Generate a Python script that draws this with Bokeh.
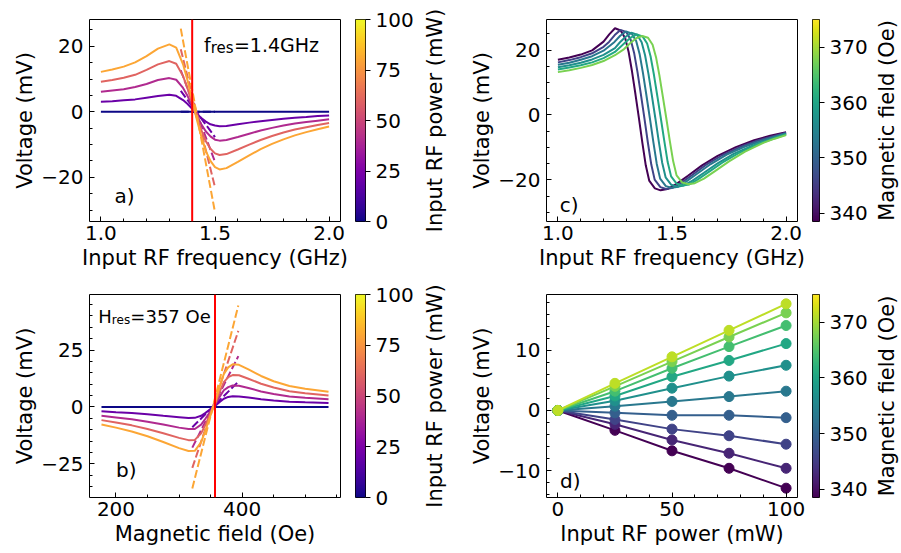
import numpy as np
from bokeh.plotting import figure
from bokeh.layouts import row, column
from bokeh.models import Range1d, FixedTicker, CustomJSTickFormatter, Label, LinearColorMapper, Span
from bokeh.palettes import Plasma256, Viridis256
from bokeh.embed import file_html
from bokeh.resources import INLINE

FONT = "DejaVu Sans"

# ---------------- data ----------------
POWERS = [0, 25, 50, 75, 100]
F_RES = 1.4
H_RES = 357

# panel a: voltage vs frequency for each power
FREQ_A = [1.00, 1.05, 1.10, 1.15, 1.20, 1.25, 1.30, 1.33, 1.36, 1.38, 1.40, 1.42, 1.44, 1.46,
          1.48, 1.50, 1.52, 1.55, 1.60, 1.65, 1.70, 1.75, 1.80, 1.85, 1.90, 1.95, 2.00]
VOLT_A_0 = [0.0, 0.0, 0.0, 0.0, 0.0, 0.0, 0.0, 0.0, 0.0, 0.0, 0.0, 0.0, 0.0, 0.0,
            0.0, 0.0, 0.0, 0.0, 0.0, 0.0, 0.0, 0.0, 0.0, 0.0, 0.0, 0.0, 0.0]
VOLT_A_25 = [3.1, 3.2, 3.5, 3.8, 4.3, 4.8, 5.2, 4.9, 3.6, 2.4, 0.9, -0.6, -1.9, -3.0,
             -3.8, -4.2, -4.4, -4.3, -3.8, -3.3, -2.9, -2.5, -2.1, -1.8, -1.6, -1.3, -1.1]
VOLT_A_50 = [6.1, 6.5, 6.9, 7.6, 8.5, 9.7, 10.3, 9.8, 7.3, 4.8, 1.8, -1.2, -3.8, -6.0,
             -7.5, -8.5, -8.8, -8.6, -7.7, -6.7, -5.7, -4.9, -4.2, -3.6, -3.1, -2.7, -2.3]
VOLT_A_75 = [9.2, 9.7, 10.4, 11.3, 12.8, 14.5, 15.5, 14.7, 10.9, 7.1, 2.6, -1.7, -5.6, -9.0,
             -11.3, -12.7, -13.2, -12.9, -11.5, -10.0, -8.6, -7.4, -6.3, -5.4, -4.7, -4.0, -3.4]
VOLT_A_100 = [12.2, 12.9, 13.8, 15.1, 17.0, 19.3, 20.6, 19.6, 14.5, 9.5, 3.5, -2.3, -7.5, -12.0,
              -15.0, -16.9, -17.6, -17.2, -15.3, -13.3, -11.4, -9.8, -8.4, -7.2, -6.2, -5.3, -4.5]
FIT_FREQ_A = [1.35, 1.50]
FIT_A_0 = [0.0, 0.0]
FIT_A_25 = [6.4, -7.7]
FIT_A_50 = [12.7, -15.3]
FIT_A_75 = [19.1, -23.0]
FIT_A_100 = [25.4, -30.7]

# panel b: voltage vs magnetic field for each power
FIELD_B = [177, 200, 225, 250, 275, 300, 315, 325, 335, 342, 350, 357, 364, 371, 378, 385,
           395, 410, 430, 450, 475, 500, 537]
VOLT_B_0 = [0.0, 0.0, 0.0, 0.0, 0.0, 0.0, 0.0, 0.0, 0.0, 0.0, 0.0, 0.0, 0.0, 0.0, 0.0, 0.0,
            0.0, 0.0, 0.0, 0.0, 0.0, 0.0, 0.0]
VOLT_B_25 = [-1.9, -2.3, -2.7, -3.2, -3.9, -4.5, -4.9, -4.8, -3.9, -2.6, -0.9, 0.4, 2.1, 3.6, 4.4, 4.7,
             4.6, 4.1, 3.4, 2.8, 2.3, 2.0, 1.7]
VOLT_B_50 = [-3.9, -4.6, -5.4, -6.5, -7.7, -9.1, -9.7, -9.7, -7.8, -5.1, -1.8, 0.9, 4.3, 7.3, 8.7, 9.4,
             9.3, 8.3, 6.8, 5.7, 4.6, 4.0, 3.4]
VOLT_B_75 = [-5.8, -6.8, -8.1, -9.7, -11.6, -13.6, -14.6, -14.5, -11.6, -7.7, -2.7, 1.3, 6.4, 10.9, 13.1, 14.0,
             13.9, 12.4, 10.2, 8.5, 6.9, 6.0, 5.0]
VOLT_B_100 = [-7.7, -9.1, -10.8, -12.9, -15.4, -18.1, -19.4, -19.3, -15.5, -10.2, -3.6, 1.7, 8.5, 14.5, 17.4, 18.7,
              18.5, 16.5, 13.6, 11.3, 9.2, 8.0, 6.7]
FIT_FIELD_B = [321, 394]
FIT_B_0 = [0.0, 0.0]
FIT_B_25 = [-8.9, 11.1]
FIT_B_50 = [-17.9, 22.3]
FIT_B_75 = [-26.8, 33.4]
FIT_B_100 = [-35.8, 44.6]

# panel c: voltage vs frequency at several magnetic fields
FIELDS_C = [338.5, 345.8, 353.1, 356.8, 360.4, 367.7]
FREQ_C1 = [1.00, 1.05, 1.10, 1.15, 1.20, 1.225, 1.25, 1.275, 1.295, 1.31, 1.325, 1.34, 1.355, 1.37,
           1.385, 1.40, 1.425, 1.45, 1.48, 1.52, 1.57, 1.63, 1.70, 1.78, 1.86, 1.93, 2.00]
VOLT_C1 = [17.0, 17.7, 18.6, 19.9, 22.6, 24.8, 26.7, 26.0, 23.6, 19.4, 13.3, 6.3, -1.0, -8.5,
           -15.5, -20.2, -22.6, -23.2, -22.8, -21.2, -18.7, -15.6, -12.6, -9.9, -7.8, -6.4, -5.3]
FREQ_C2 = [1.00, 1.05, 1.10, 1.15, 1.20, 1.224, 1.249, 1.274, 1.299, 1.319, 1.334, 1.349, 1.364, 1.379,
           1.394, 1.409, 1.424, 1.449, 1.474, 1.504, 1.54, 1.59, 1.65, 1.72, 1.80, 1.88, 1.94, 2.00]
VOLT_C2 = [16.2, 16.9, 17.8, 19.0, 21.0, 22.5, 24.6, 26.2, 25.6, 23.2, 19.1, 13.1, 6.2, -1.0,
           -8.4, -15.2, -19.9, -22.2, -22.8, -22.4, -20.9, -18.4, -15.3, -12.4, -9.8, -7.8, -6.6, -5.5]
FREQ_C3 = [1.00, 1.05, 1.10, 1.15, 1.20, 1.248, 1.273, 1.298, 1.323, 1.343, 1.358, 1.373, 1.388, 1.403,
           1.418, 1.433, 1.448, 1.473, 1.498, 1.528, 1.56, 1.61, 1.67, 1.74, 1.82, 1.90, 2.00]
VOLT_C3 = [15.5, 16.1, 17.0, 18.1, 19.8, 22.5, 24.4, 25.7, 25.1, 22.8, 18.8, 12.8, 6.0, -1.0,
           -8.2, -15.0, -19.6, -21.9, -22.4, -22.1, -20.6, -18.1, -15.1, -12.2, -9.7, -7.8, -5.7]
FREQ_C4 = [1.00, 1.05, 1.10, 1.15, 1.20, 1.25, 1.272, 1.297, 1.322, 1.347, 1.367, 1.382, 1.397, 1.412,
           1.427, 1.442, 1.457, 1.472, 1.497, 1.522, 1.552, 1.59, 1.64, 1.70, 1.77, 1.85, 1.93, 2.00]
VOLT_C4 = [14.7, 15.3, 16.1, 17.1, 18.5, 20.6, 22.4, 24.1, 25.3, 24.7, 22.4, 18.4, 12.6, 5.9,
           -1.0, -8.1, -14.7, -19.2, -21.5, -22.1, -21.7, -20.2, -17.8, -14.9, -12.0, -9.5, -7.5, -5.8]
FREQ_C5 = [1.00, 1.05, 1.10, 1.15, 1.20, 1.25, 1.296, 1.321, 1.346, 1.371, 1.391, 1.406, 1.421, 1.436,
           1.451, 1.466, 1.481, 1.496, 1.521, 1.546, 1.576, 1.61, 1.66, 1.72, 1.79, 1.87, 1.94, 2.00]
VOLT_C5 = [14.0, 14.6, 15.3, 16.2, 17.5, 19.4, 22.4, 23.9, 24.8, 24.2, 22.0, 18.1, 12.3, 5.7,
           -1.0, -7.9, -14.5, -18.9, -21.2, -21.7, -21.4, -20.0, -17.6, -14.7, -11.8, -9.1, -7.4, -6.0]
FREQ_C6 = [1.00, 1.05, 1.10, 1.15, 1.20, 1.25, 1.29, 1.32, 1.345, 1.37, 1.395, 1.415, 1.43, 1.445,
           1.46, 1.475, 1.49, 1.505, 1.52, 1.545, 1.57, 1.60, 1.64, 1.69, 1.75, 1.82, 1.90, 1.95, 2.00]
VOLT_C6 = [13.2, 13.8, 14.5, 15.4, 16.6, 18.4, 20.3, 22.3, 23.7, 24.3, 23.8, 21.6, 17.8, 12.1,
           5.6, -1.0, -7.8, -14.2, -18.6, -20.8, -21.3, -21.0, -19.6, -17.2, -14.3, -11.3, -8.6, -7.3, -6.2]

# panel d: voltage vs power at several magnetic fields
POWER_D = [0, 25, 50, 75, 100]
FIELDS_D = [338.5, 342.2, 345.8, 349.5, 353.1, 356.8, 360.4, 364.1, 367.7, 371.4]
VOLT_D0 = [0.0, -3.3, -6.7, -9.6, -12.9]
VOLT_D1 = [0.0, -2.3, -4.9, -7.1, -9.6]
VOLT_D2 = [0.0, -1.5, -3.1, -4.2, -5.6]
VOLT_D3 = [0.0, -0.4, -0.8, -0.8, -1.2]
VOLT_D4 = [0.0, 0.7, 1.5, 2.3, 3.2]
VOLT_D5 = [0.0, 1.6, 3.7, 5.7, 7.5]
VOLT_D6 = [0.0, 2.4, 5.6, 8.3, 11.1]
VOLT_D7 = [0.0, 3.2, 7.0, 10.6, 14.1]
VOLT_D8 = [0.0, 4.0, 8.1, 12.2, 16.2]
VOLT_D9 = [0.0, 4.5, 8.9, 13.3, 17.7]

CB_POWER = (0, 100)
CB_POWER_TICKS = [0, 25, 50, 75, 100]
CB_FIELD = (338.5, 375.0)
CB_FIELD_TICKS = [340, 350, 360, 370]

# ---------------- styling helpers ----------------
def plasma(pw):
    return Plasma256[int(round(pw / 125 * 255))]

def viridis(h):
    lo, hi = CB_FIELD
    return Viridis256[int(round((h - lo) / (hi - lo) * 255))]

INT_CODE = "return (tick < 0 ? '\u2212' : '') + Math.abs(tick).toFixed(0);"
FREQ_CODE = "return tick.toFixed(1);"

ROW1 = dict(top=19, bottom=63, height=284)
ROW2 = dict(top=10, bottom=55, height=268)


def base_fig(width, rowcfg, left, right, xr, yr, **kw):
    p = figure(width=width, height=rowcfg["height"],
               x_range=Range1d(*xr), y_range=Range1d(*yr),
               toolbar_location=None, output_backend="svg",
               min_border_left=left, min_border_right=right,
               min_border_top=rowcfg["top"], min_border_bottom=rowcfg["bottom"], **kw)
    p.grid.visible = False
    p.background_fill_color = "white"
    p.border_fill_color = "white"
    return p


def main_fig(rowcfg, left, right, frame_w, xr, yr):
    p = base_fig(left + frame_w + right, rowcfg, left, right, xr, yr)
    p.outline_line_color = "black"
    p.outline_line_width = 1
    return p


def style_axes(p, xt, xm, yt, ym, xcode, ycode, xlabel, ylabel):
    xa = p.below[0]
    ya = p.left[0]
    xa.ticker = FixedTicker(ticks=xt, minor_ticks=xm)
    ya.ticker = FixedTicker(ticks=yt, minor_ticks=ym)
    xa.formatter = CustomJSTickFormatter(code=xcode)
    ya.formatter = CustomJSTickFormatter(code=ycode)
    xa.axis_label = xlabel
    ya.axis_label = ylabel
    for ax in (xa, ya):
        ax.axis_line_color = None
        ax.major_tick_in = 5
        ax.major_tick_out = 0
        ax.minor_tick_in = 3
        ax.minor_tick_out = 0
        ax.major_tick_line_color = "black"
        ax.minor_tick_line_color = "black"
        ax.major_tick_line_width = 1
        ax.minor_tick_line_width = 1
        ax.major_label_text_font = FONT
        ax.major_label_text_font_size = "20px"
        ax.major_label_text_color = "black"
        ax.axis_label_text_font = FONT
        ax.axis_label_text_font_size = "21px"
        ax.axis_label_text_font_style = "normal"
        ax.axis_label_text_color = "black"
    xa.major_label_standoff = 4
    xa.axis_label_standoff = 3
    ya.major_label_standoff = 6
    ya.axis_label_standoff = 1


def colorbar_fig(rowcfg, left, frame_w, right, rng, palette, ticks):
    lo, hi = rng
    p = base_fig(left + frame_w + right, rowcfg, left, right, (0, 1), (lo, hi),
                 x_axis_location=None, y_axis_location="right")
    p.outline_line_color = "black"
    p.outline_line_width = 1
    mapper = LinearColorMapper(palette=palette, low=lo, high=hi)
    grad = np.linspace(lo, hi, 256).reshape(256, 1)
    p.image(image=[grad], x=0, y=lo, dw=1, dh=hi - lo, color_mapper=mapper)
    ax = p.right[0]
    ax.ticker = FixedTicker(ticks=ticks, minor_ticks=[])
    ax.formatter = CustomJSTickFormatter(code=INT_CODE)
    ax.axis_line_color = None
    ax.major_tick_in = 0
    ax.major_tick_out = 5
    ax.minor_tick_in = 0
    ax.minor_tick_out = 0
    ax.major_tick_line_color = "black"
    ax.major_label_standoff = 5
    ax.major_label_text_font = FONT
    ax.major_label_text_font_size = "20px"
    ax.major_label_text_color = "black"
    return p


def title_fig(rowcfg, width, left, text):
    # a bare strip whose left-axis label serves as the colour bar title
    p = base_fig(width, rowcfg, left, 0, (0, 1), (0, 1),
                 x_axis_location=None, y_axis_location="left")
    p.outline_line_color = None
    ax = p.left[0]
    ax.ticker = FixedTicker(ticks=[], minor_ticks=[])
    ax.axis_line_color = None
    ax.major_tick_out = 0
    ax.major_tick_in = 0
    ax.minor_tick_out = 0
    ax.minor_tick_in = 0
    ax.major_label_standoff = 0
    ax.axis_label = text
    ax.axis_label_standoff = 0
    ax.axis_label_text_font = FONT
    ax.axis_label_text_font_size = "21px"
    ax.axis_label_text_font_style = "normal"
    ax.axis_label_text_color = "black"
    return p


def add_label(p, x, y, text, size="20px", baseline="middle"):
    p.add_layout(Label(x=x, y=y, text=text, text_font=FONT, text_font_size=size,
                       text_align="left", text_baseline=baseline, text_color="black"))


# ---------------- panel a ----------------
pa = main_fig(ROW1, 89, 13, 251, (0.95, 2.05), (-33.5, 28.2))
style_axes(pa, [1.0, 1.5, 2.0], [round(v, 2) for v in np.arange(0.9, 2.15, 0.1)],
           [-20, 0, 20], list(range(-35, 31, 5)), FREQ_CODE, INT_CODE,
           "Input RF frequency (GHz)", "Voltage (mV)")
series_a = [VOLT_A_0, VOLT_A_25, VOLT_A_50, VOLT_A_75, VOLT_A_100]
fits_a = [FIT_A_0, FIT_A_25, FIT_A_50, FIT_A_75, FIT_A_100]
for pw, v, fit in zip(POWERS, series_a, fits_a):
    pa.line(FREQ_A, v, line_color=plasma(pw), line_width=2)
    pa.line(FIT_FREQ_A, fit, line_color=plasma(pw), line_width=2, line_dash="8 3")
pa.add_layout(Span(location=F_RES, dimension="height", line_color="red", line_width=2))
add_label(pa, 1.452, 20.5, "f", "19px", "alphabetic")
add_label(pa, 1.481, 19.6, "res", "15px", "alphabetic")
add_label(pa, 1.583, 20.5, "=1.4GHz", "19px", "alphabetic")
add_label(pa, 1.06, -25.7, "a)")

cba = colorbar_fig(ROW1, 2, 11, 50, CB_POWER, Plasma256, CB_POWER_TICKS)
tia = title_fig(ROW1, 36, 30, "Input RF power (mW)")

# ---------------- panel c ----------------
pc = main_fig(ROW1, 94, 13, 251, (0.95, 2.05), (-32.8, 29.4))
style_axes(pc, [1.0, 1.5, 2.0], [round(v, 2) for v in np.arange(0.9, 2.15, 0.1)],
           [-20, 0, 20], list(range(-35, 31, 5)), FREQ_CODE, INT_CODE,
           "Input RF frequency (GHz)", "Voltage (mV)")
curves_c = [(FREQ_C1, VOLT_C1), (FREQ_C2, VOLT_C2), (FREQ_C3, VOLT_C3),
            (FREQ_C4, VOLT_C4), (FREQ_C5, VOLT_C5), (FREQ_C6, VOLT_C6)]
for h, (f, v) in zip(FIELDS_C, curves_c):
    pc.line(f, v, line_color=viridis(h), line_width=2)
add_label(pc, 1.008, -27.8, "c)")

cbc = colorbar_fig(ROW1, 2, 10, 48, CB_FIELD, Viridis256, CB_FIELD_TICKS)
tic = title_fig(ROW1, 30, 28, "Magnetic field (Oe)")

# ---------------- panel b ----------------
pb = main_fig(ROW2, 89, 13, 251, (158, 556), (-39.8, 49.4))
style_axes(pb, [200, 400], list(range(150, 601, 50)),
           [-25, 0, 25], list(range(-40, 51, 5)), INT_CODE, INT_CODE,
           "Magnetic field (Oe)", "Voltage (mV)")
series_b = [VOLT_B_0, VOLT_B_25, VOLT_B_50, VOLT_B_75, VOLT_B_100]
fits_b = [FIT_B_0, FIT_B_25, FIT_B_50, FIT_B_75, FIT_B_100]
for pw, v, fit in zip(POWERS, series_b, fits_b):
    pb.line(FIELD_B, v, line_color=plasma(pw), line_width=2)
    pb.line(FIT_FIELD_B, fit, line_color=plasma(pw), line_width=2, line_dash="8 3")
pb.add_layout(Span(location=H_RES, dimension="height", line_color="red", line_width=2))
add_label(pb, 172, 39.7, "H", "18px", "alphabetic")
add_label(pb, 193.4, 38.0, "res", "12px", "alphabetic")
add_label(pb, 222.8, 39.7, "=357 Oe", "18px", "alphabetic")
add_label(pb, 200, -27.9, "b)")

cbb = colorbar_fig(ROW2, 2, 11, 50, CB_POWER, Plasma256, CB_POWER_TICKS)
tib = title_fig(ROW2, 36, 30, "Input RF power (mW)")

# ---------------- panel d ----------------
pd_ = main_fig(ROW2, 94, 13, 251, (-5, 105), (-14.45, 19.25))
style_axes(pd_, [0, 50, 100], list(range(-10, 111, 10)),
           [-10, 0, 10], list(range(-14, 21, 2)), INT_CODE, INT_CODE,
           "Input RF power (mW)", "Voltage (mV)")
series_d = [VOLT_D0, VOLT_D1, VOLT_D2, VOLT_D3, VOLT_D4, VOLT_D5, VOLT_D6, VOLT_D7, VOLT_D8, VOLT_D9]
for h, v in zip(FIELDS_D, series_d):
    pd_.line(POWER_D, v, line_color=viridis(h), line_width=2)
    pd_.scatter(POWER_D, v, size=10, fill_color=viridis(h), line_color=viridis(h))
add_label(pd_, 0.9, -11.7, "d)")

cbd = colorbar_fig(ROW2, 2, 10, 48, CB_FIELD, Viridis256, CB_FIELD_TICKS)
tid = title_fig(ROW2, 30, 28, "Magnetic field (Oe)")

layout = column(row(pa, cba, tia, pc, cbc, tic), row(pb, cbb, tib, pd_, cbd, tid))

with open("out.html", "w") as fh:
    fh.write(file_html(layout, INLINE))
